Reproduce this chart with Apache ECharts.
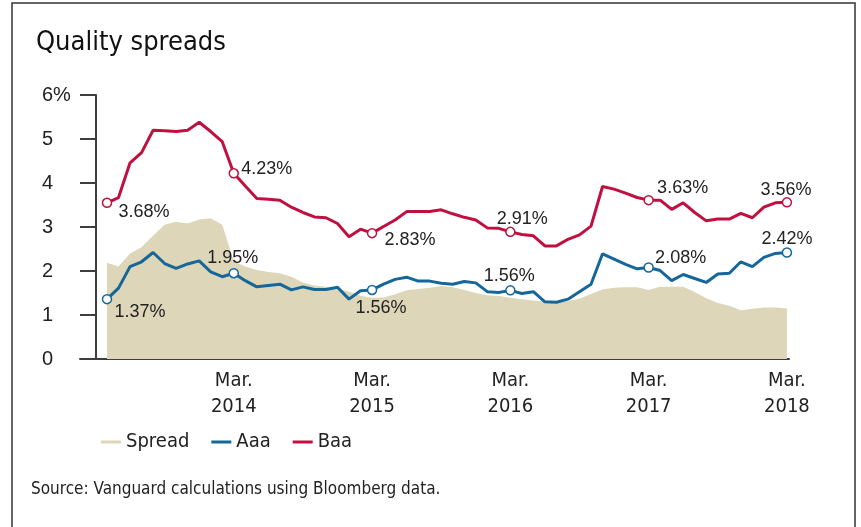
<!DOCTYPE html>
<html><head><meta charset="utf-8">
<script src="https://cdn.jsdelivr.net/npm/echarts@6/dist/echarts.min.js"></script>
<style>html,body{margin:0;padding:0;background:#fff}#c{width:861px;height:527px}</style>
</head><body><div id="c"></div>
<script>
// Monthly observations, Apr 2013 .. Mar 2018 (index 0..59)
const spread = [2.19,2.10,2.40,2.54,2.80,3.05,3.12,3.08,3.17,3.20,3.05,2.22,2.10,2.02,1.98,1.95,1.87,1.74,1.67,1.64,
  1.61,1.53,1.44,1.39,1.40,1.47,1.56,1.59,1.62,1.66,1.63,1.57,1.50,1.45,1.43,1.39,1.36,1.33,1.30,1.30,
  1.32,1.37,1.48,1.58,1.62,1.63,1.63,1.57,1.64,1.64,1.64,1.52,1.38,1.27,1.21,1.11,1.14,1.17,1.17,1.15];
const aaa = [1.36,1.61,2.10,2.21,2.42,2.17,2.06,2.16,2.23,1.98,1.87,1.95,1.78,1.64,1.67,1.70,1.57,1.64,1.58,1.58,
  1.63,1.36,1.55,1.57,1.70,1.81,1.86,1.77,1.77,1.72,1.70,1.76,1.73,1.53,1.51,1.56,1.49,1.53,1.30,1.29,
  1.36,1.53,1.70,2.39,2.27,2.15,2.05,2.08,2.01,1.78,1.92,1.83,1.74,1.93,1.95,2.21,2.10,2.31,2.40,2.42];
const baa = [3.55,3.67,4.46,4.69,5.20,5.19,5.17,5.20,5.38,5.17,4.94,4.22,3.93,3.65,3.63,3.61,3.45,3.33,3.23,3.21,
  3.08,2.78,2.95,2.86,3.01,3.16,3.35,3.35,3.35,3.39,3.30,3.22,3.16,2.98,2.97,2.89,2.83,2.80,2.57,2.57,
  2.72,2.82,3.02,3.92,3.86,3.77,3.67,3.61,3.61,3.40,3.55,3.33,3.14,3.18,3.18,3.31,3.21,3.45,3.55,3.56];
const markIdx = [0, 11, 23, 35, 47, 59];
const aaaLabels = ['1.37%', '1.95%', '1.56%', '1.56%', '2.08%', '2.42%'];
const baaLabels = ['3.68%', '4.23%', '2.83%', '2.91%', '3.63%', '3.56%'];
const tickIdx = [11, 23, 35, 47, 59];
const tickLabels = ['Mar.\n2014', 'Mar.\n2015', 'Mar.\n2016', 'Mar.\n2017', 'Mar.\n2018'];
const seriesNames = ['Spread', 'Aaa', 'Baa'];

const C_SPREAD = '#ddd6b9', C_AAA = '#15679a', C_BAA = '#c01040';
const AX = '#3d3d3d';
const condensed = '"DejaVu Sans Condensed", "Liberation Sans Narrow", sans-serif';
const regular = '"Liberation Sans", Arial, sans-serif';

// label offsets (center of label relative to marker center)
const aaaOff = [[33, 13], [-1, -15], [9, 18], [-1, -14], [32, -9], [0, -13]];
const baaOff = [[37, 9], [33, -4], [38, 7], [12, -13], [34, -12], [-1, -12]];

function buildLine(values, labels, offs, color) {
  return values.map((v, i) => {
    const k = markIdx.indexOf(i);
    if (k < 0) return [i, v];
    return {
      value: [i, v],
      symbol: 'circle',
      symbolSize: 9,
      itemStyle: { color: '#fff', borderColor: color, borderWidth: 1.5, opacity: 1 },
      label: {
        show: true, position: 'inside', offset: offs[k],
        formatter: labels[k], color: '#222', fontSize: 18, fontFamily: regular,
        textBorderWidth: 0, align: 'center', verticalAlign: 'middle'
      }
    };
  });
}

const chart = echarts.init(document.getElementById('c'), null, { renderer: 'canvas' });
chart.setOption({
  animation: false,
  backgroundColor: '#fff',
  title: {
    text: 'Quality spreads', left: 31, top: 24,
    textStyle: { fontSize: 27, fontWeight: 'normal', color: '#111', fontFamily: condensed }
  },
  legend: {
    data: seriesNames, left: 96, top: 427, icon: 'rect', itemWidth: 20, itemHeight: 3, itemGap: 22,
    textStyle: { fontSize: 20, color: '#222', fontFamily: condensed }
  },
  graphic: [
    { type: 'rect', shape: { x: 12, y: 3, width: 843, height: 560 }, style: { fill: 'none', stroke: '#333', lineWidth: 1.5 }, silent: true },
    { type: 'text', left: 31, top: 481, style: { text: 'Source: Vanguard calculations using Bloomberg data.', fontSize: 17, fill: '#222', fontFamily: condensed } }
  ],
  grid: { left: 80, right: 72, top: 95, bottom: 168, containLabel: false },
  xAxis: {
    type: 'value', min: -2.343, max: 59.18,
    splitLine: { show: false },
    axisLine: { show: true, onZero: false, lineStyle: { color: AX, width: 2 } },
    axisTick: { show: false },
    axisLabel: {
      customValues: tickIdx,
      formatter: v => tickLabels[tickIdx.indexOf(Math.round(v))],
      fontSize: 20, lineHeight: 26, color: '#222', margin: 9, fontFamily: condensed
    }
  },
  yAxis: {
    type: 'value', min: 0, max: 6, interval: 1, offset: -16,
    splitLine: { show: false },
    axisLine: { show: true, onZero: false, lineStyle: { color: AX, width: 2 } },
    axisTick: { show: true, length: 16, lineStyle: { color: AX, width: 2 } },
    axisLabel: {
      align: 'left', margin: 54, fontSize: 20, color: '#222', fontFamily: regular,
      formatter: v => v === 6 ? '6%' : String(v)
    }
  },
  series: [
    {
      name: seriesNames[0], type: 'line', data: spread.map((v, i) => [i, v]),
      symbol: 'none', lineStyle: { width: 0, color: C_SPREAD }, itemStyle: { color: C_SPREAD },
      areaStyle: { color: C_SPREAD, opacity: 1 }, z: 1
    },
    {
      name: seriesNames[1], type: 'line', data: buildLine(aaa, aaaLabels, aaaOff, C_AAA),
      symbol: 'none', showSymbol: true, lineStyle: { width: 3, color: C_AAA }, itemStyle: { color: C_AAA }, z: 3
    },
    {
      name: seriesNames[2], type: 'line', data: buildLine(baa, baaLabels, baaOff, C_BAA),
      symbol: 'none', showSymbol: true, lineStyle: { width: 3, color: C_BAA }, itemStyle: { color: C_BAA }, z: 4
    }
  ]
});
</script></body></html>
